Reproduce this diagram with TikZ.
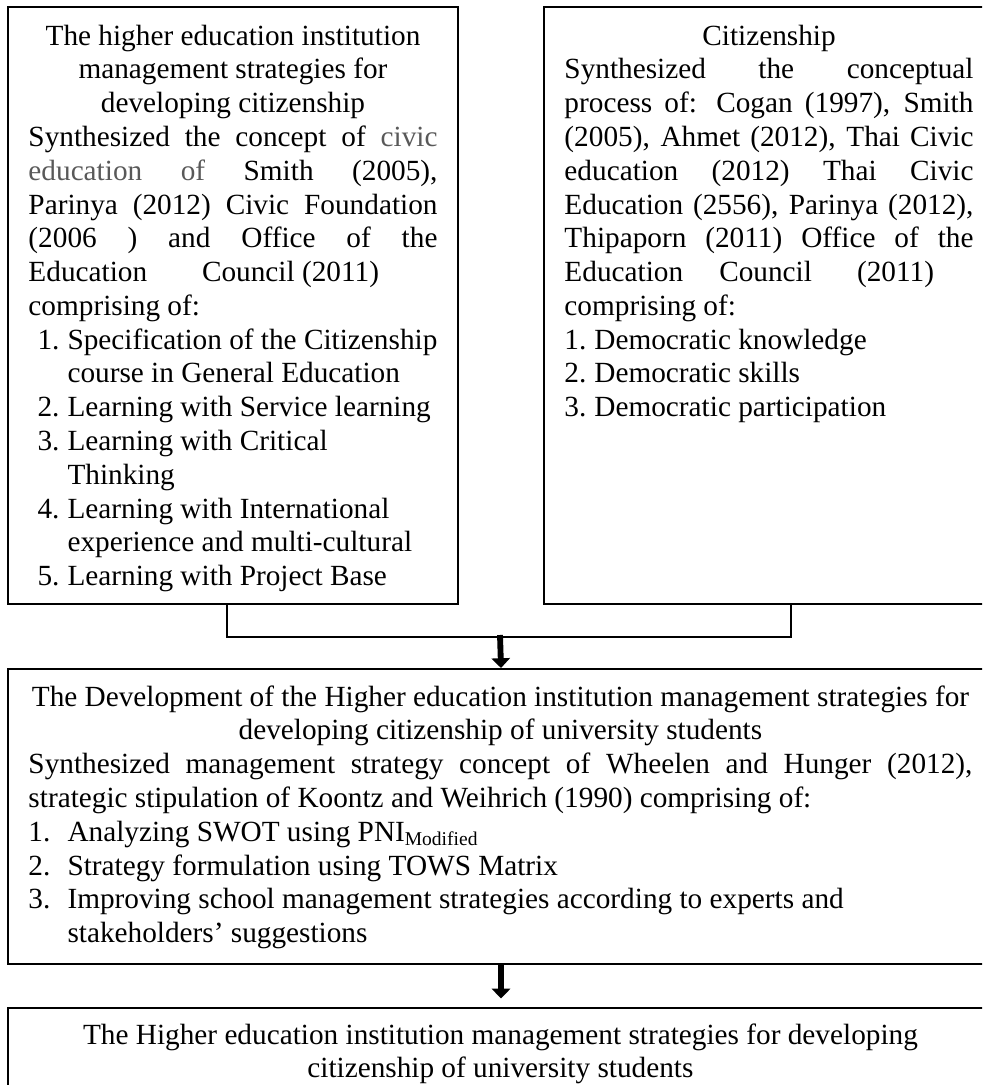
\documentclass[tikz,border=0pt]{standalone}
\usepackage{fontspec}
\setmainfont{Liberation Serif}
\usepackage{xcolor}
\usetikzlibrary{arrows.meta}
\usetikzlibrary{positioning}

\tikzstyle{panel} = [draw=black, line width=0.8pt, rectangle, inner sep=0pt, anchor=north west]
\tikzstyle{half} = [panel, minimum width=184.5pt, minimum height=244.8pt]
\tikzstyle{wide} = [panel, minimum width=404.3pt]
\tikzstyle{body} = [inner sep=0pt, anchor=north west, align=left,
font=\fontsize{12pt}{13.85pt}\selectfont,
execute at begin node={\spaceskip=0pt\xspaceskip=0pt\relax}]
\tikzstyle{link} = [draw, line width=0.6pt]
\tikzstyle{flow} = [draw, line width=2.4pt, -{Triangle[width=7.5pt,length=4pt]}]

\newcommand{\ctrline}[1]{\makebox[\linewidth][c]{#1}}
\newcommand{\jstline}[1]{{\spaceskip=\fontdimen2\font plus 1fil\relax
  \makebox[\linewidth][s]{#1}}}
\newcommand{\graytext}[1]{\textcolor{black!65}{#1}}

\begin{document}
\begin{tikzpicture}[x=0.41pt, y=-0.41pt]
    \useasboundingbox (0,0) rectangle (982,1085);
    \clip (0,0) rectangle (982,1085);

    % frames
    \node[half] (strat) at (7,6) {};
    \node[half] (citiz) at (543,6) {};
    \node[wide, minimum height=121pt] (devel) at (7,668) {};
    \node[wide, minimum height=45pt] (final) at (7,1007) {};

    % texts
    \node[body, text width=167.7pt] (strattext) at ([shift={(21,15)}]strat.north west) {%
    \strut\ctrline{The higher education institution}\\
    \ctrline{management strategies for}\\
    \ctrline{developing citizenship}\\
    \jstline{Synthesized the concept of \graytext{civic}}\\
    \jstline{\graytext{education of} Smith (2005),}\\
    \jstline{Parinya (2012) Civic Foundation}\\
    \jstline{(2006 ) and Office of the}\\
    Education\hspace{22.5pt}Council (2011)\\
    comprising of:\\
    \makebox[16pt][l]{\hspace{3.7pt}1.}Specification of the Citizenship\\
    \hspace*{16pt}course in General Education\\
    \makebox[16pt][l]{\hspace{3.7pt}2.}Learning with Service learning\\
    \makebox[16pt][l]{\hspace{3.7pt}3.}Learning with Critical\\
    \hspace*{16pt}Thinking\\
    \makebox[16pt][l]{\hspace{3.7pt}4.}Learning with International\\
    \hspace*{16pt}experience and multi-cultural\\
    \makebox[16pt][l]{\hspace{3.7pt}5.}Learning with Project Base};

    \node[body, text width=167.7pt] (citiztext) at ([shift={(21,15)}]citiz.north west) {%
    \strut\ctrline{Citizenship}\\
    \jstline{Synthesized the conceptual}\\
    \jstline{process of: Cogan (1997), Smith}\\
    \jstline{(2005), Ahmet (2012), Thai Civic}\\
    \jstline{education (2012) Thai Civic}\\
    \jstline{Education (2556), Parinya (2012),}\\
    \jstline{Thipaporn (2011) Office of the}\\
    Education\hspace{14.8pt}Council\hspace{18.5pt}(2011)\\
    comprising of:\\
    \makebox[12.3pt][l]{1.}Democratic knowledge\\
    \makebox[12.3pt][l]{2.}Democratic skills\\
    \makebox[12.3pt][l]{3.}Democratic participation};

    \node[body, text width=387pt] (develtext) at ([shift={(21,14)}]devel.north west) {%
    \strut\ctrline{The Development of the Higher education institution management strategies for}\\
    \ctrline{developing citizenship of university students}\\
    \jstline{Synthesized management strategy concept of Wheelen and Hunger (2012),}\\
    strategic stipulation of Koontz and Weihrich (1990) comprising of:\\
    \makebox[16pt][l]{1.}Analyzing SWOT using PNI\textsubscript{Modified}\\
    \makebox[16pt][l]{2.}Strategy formulation using TOWS Matrix\\
    \makebox[16pt][l]{3.}Improving school management strategies according to experts and\\
    \hspace*{16pt}stakeholders' suggestions};

    \node[body, text width=387pt] (finaltext) at ([shift={(21,13)}]final.north west) {%
    \strut\ctrline{The Higher education institution management strategies for developing}\\
    \ctrline{citizenship of university students}};

    % connectors
    \draw[link] ([shift={(-6,0)}]strat.south) -- ++(0,32) -| ([shift={(22,0)}]citiz.south);
    \coordinate (join) at (500,635);
    \draw[flow] (join) -- (devel.north);
    \draw[flow, shorten >=3.5pt] (devel.south) -- (final.north);
\end{tikzpicture}
\end{document}
